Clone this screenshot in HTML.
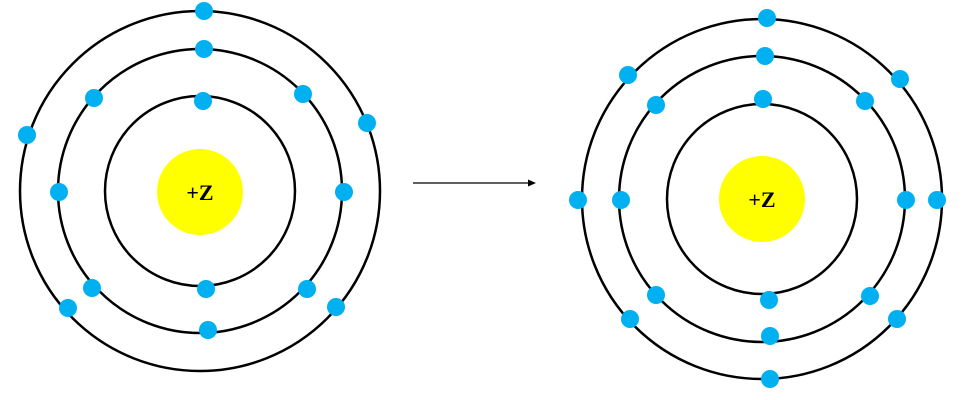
<!DOCTYPE html>
<html><head><meta charset="utf-8"><style>html,body{margin:0;padding:0;background:#fff}svg{display:block}</style></head><body>
<svg width="963" height="400" viewBox="0 0 963 400" xmlns="http://www.w3.org/2000/svg">
<g fill="none" stroke="#000" stroke-width="2.5">
<circle cx="200" cy="191" r="95"/><circle cx="200" cy="191" r="142"/><circle cx="200" cy="191" r="180"/>
<circle cx="762" cy="199" r="95"/><circle cx="762" cy="199" r="143"/><circle cx="762" cy="199" r="180"/>
</g>
<circle cx="200" cy="192" r="43" fill="#ffff00"/>
<circle cx="762" cy="199" r="43" fill="#ffff00"/>
<text x="200" y="200" text-anchor="middle" font-family="Liberation Serif, serif" font-weight="bold" font-size="22">+Z</text>
<text x="762" y="207" text-anchor="middle" font-family="Liberation Serif, serif" font-weight="bold" font-size="22">+Z</text>
<line x1="413" y1="183" x2="530" y2="183" stroke="#000" stroke-width="1.3"/>
<polygon points="536,183 528,179.5 528,186.5" fill="#000"/>
<g fill="#00b0f0">
<circle cx="204" cy="11" r="9"/><circle cx="204" cy="49" r="9"/><circle cx="203" cy="101" r="9"/>
<circle cx="94" cy="98" r="9"/><circle cx="303" cy="94" r="9"/><circle cx="27" cy="135" r="9"/>
<circle cx="367" cy="123" r="9"/><circle cx="59" cy="192" r="9"/><circle cx="344" cy="192" r="9"/>
<circle cx="92" cy="288" r="9"/><circle cx="206" cy="289" r="9"/><circle cx="307" cy="289" r="9"/>
<circle cx="68" cy="308" r="9"/><circle cx="336" cy="307" r="9"/><circle cx="208" cy="330" r="9"/>
<circle cx="767" cy="18" r="9"/><circle cx="765" cy="56" r="9"/><circle cx="763" cy="99" r="9"/>
<circle cx="628" cy="75" r="9"/><circle cx="900" cy="79" r="9"/><circle cx="656" cy="105" r="9"/>
<circle cx="865" cy="101" r="9"/><circle cx="578" cy="200" r="9"/><circle cx="621" cy="200" r="9"/>
<circle cx="906" cy="200" r="9"/><circle cx="937" cy="200" r="9"/><circle cx="656" cy="295" r="9"/>
<circle cx="769" cy="300" r="9"/><circle cx="870" cy="296" r="9"/><circle cx="630" cy="319" r="9"/>
<circle cx="897" cy="319" r="9"/><circle cx="770" cy="336" r="9"/><circle cx="770" cy="379" r="9"/>
</g>
</svg>
</body></html>
